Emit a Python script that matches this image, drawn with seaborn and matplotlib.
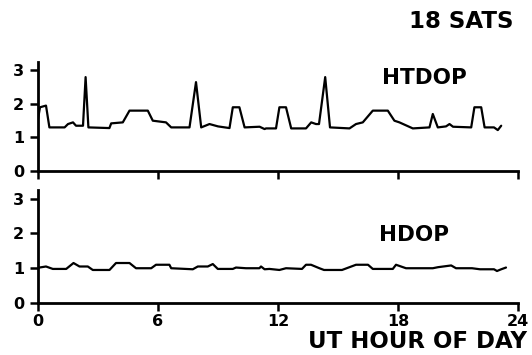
import matplotlib
matplotlib.use("Agg")
import matplotlib.pyplot as plt
import seaborn as sns
import pandas as pd

# ---- data ----
htdop_hours = [0.0, 0.1, 0.4, 0.57, 1.33, 1.5, 1.75, 1.9, 2.25, 2.38, 2.52, 3.57, 3.66,
               4.24, 4.575, 5.49, 5.74, 6.4, 6.66, 7.575, 7.9, 8.16, 8.575, 9.0, 9.575,
               9.74, 10.07, 10.33, 11.08, 11.33, 11.4, 11.9, 12.07, 12.4, 12.66, 13.4,
               13.66, 13.9, 14.05, 14.36, 14.6, 15.575, 15.9, 16.24, 16.74, 17.49, 17.82,
               18.07, 18.74, 19.575, 19.74, 19.99, 20.4, 20.575, 20.75, 21.66, 21.82,
               22.16, 22.33, 22.8, 22.99, 23.16]
htdop_values = [1.55, 1.9, 1.95, 1.3, 1.3, 1.4, 1.45, 1.35, 1.35, 2.8, 1.3, 1.28, 1.42,
                1.45, 1.8, 1.8, 1.5, 1.45, 1.3, 1.3, 2.65, 1.3, 1.4, 1.33, 1.28,
                1.9, 1.9, 1.3, 1.32, 1.25, 1.27, 1.27, 1.9, 1.9, 1.27, 1.27,
                1.45, 1.4, 1.4, 2.8, 1.3, 1.27, 1.4, 1.45, 1.8, 1.8, 1.5,
                1.45, 1.27, 1.3, 1.7, 1.3, 1.33, 1.4, 1.32, 1.3, 1.9,
                1.9, 1.3, 1.3, 1.22, 1.35]

hdop_hours = [0.0, 0.075, 0.4, 0.74, 1.41, 1.775, 2.075, 2.49, 2.74, 3.575, 3.9, 4.575,
              4.9, 5.66, 5.9, 6.57, 6.66, 7.74, 7.99, 8.49, 8.74, 8.99, 9.74, 9.9, 10.4,
              11.07, 11.15, 11.33, 11.57, 12.07, 12.4, 13.2, 13.4, 13.65, 14.07, 14.3,
              15.2, 15.9, 16.5, 16.74, 17.74, 17.9, 18.4, 19.74, 20.0, 20.66, 20.9,
              21.7, 22.1, 22.8, 22.95, 23.16, 23.4]
hdop_values = [1.0, 1.02, 1.05, 0.98, 0.98, 1.15, 1.05, 1.05, 0.95, 0.95, 1.15, 1.15,
               1.0, 1.0, 1.1, 1.1, 1.0, 0.97, 1.05, 1.05, 1.12, 0.98, 0.98, 1.02, 1.0,
               1.0, 1.05, 0.97, 0.98, 0.95, 1.0, 0.98, 1.1, 1.1, 1.0, 0.95,
               0.95, 1.1, 1.1, 0.98, 0.98, 1.1, 1.0, 1.0, 1.03, 1.08, 1.0,
               1.0, 0.97, 0.97, 0.92, 0.97, 1.02]

x_ticks = [0, 6, 12, 18, 24]
y_ticks = [0, 1, 2, 3]
panel_labels = ["HTDOP", "HDOP"]
title_text = "18 SATS"
x_label = "UT HOUR OF DAY"

sns.set_theme(style="ticks")
plt.rcParams['font.family'] = ['DejaVu Sans']
plt.rcParams['font.weight'] = 'bold'

fig = plt.figure(figsize=(5.32, 3.55), dpi=100)
ax_top = fig.add_axes([38 / 532, 1 - 171 / 355, (518 - 38) / 532, (171 - 62) / 355])
ax_bot = fig.add_axes([38 / 532, 1 - 303 / 355, (518 - 38) / 532, (303 - 190) / 355])

df_top = pd.DataFrame({"hour": htdop_hours, "dop": htdop_values})
df_bot = pd.DataFrame({"hour": hdop_hours, "dop": hdop_values})

for ax, df, lab, xtxt, ytxt in [(ax_top, df_top, panel_labels[0], 19.3, 2.78),
                                (ax_bot, df_bot, panel_labels[1], 18.8, 1.95)]:
    sns.lineplot(data=df, x="hour", y="dop", ax=ax, color="black", linewidth=1.6,
                 estimator=None, sort=False)
    ax.set_xlim(0, 24)
    ax.set_ylim(0, 3.25)
    ax.set_xticks(x_ticks)
    ax.set_yticks(y_ticks)
    ax.set_xlabel("")
    ax.set_ylabel("")
    for s in ["top", "right"]:
        ax.spines[s].set_visible(False)
    for s in ["left", "bottom"]:
        ax.spines[s].set_linewidth(2.0)
        ax.spines[s].set_color("black")
    ax.tick_params(direction="out", length=6, width=1.8, colors="black",
                   labelsize=11.5, pad=4)
    for t in ax.get_yticklabels():
        t.set_fontweight("bold")
    ax.set_facecolor("white")
    ax.text(xtxt, ytxt, lab, ha="center", va="center", fontsize=15.5,
            fontweight="bold", color="black")

ax_top.set_xticklabels([])
ax_bot.set_xticklabels([str(v) for v in x_ticks], fontweight="bold")
ax_bot.tick_params(axis="x", pad=2)

fig.text(461 / 532, 1 - 21.5 / 355, title_text, ha="center", va="center",
         fontsize=16.5, fontweight="bold", color="black")
fig.text(418 / 532, 1 - 341.5 / 355, x_label, ha="center", va="center",
         fontsize=16.5, fontweight="bold", color="black")

fig.savefig("out.png", dpi=100, facecolor="white")
